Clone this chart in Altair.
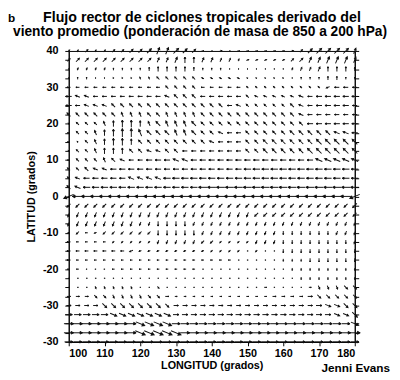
import altair as alt
import pandas as pd

TITLE_LINES = ["Flujo rector de ciclones tropicales derivado del",
               "viento promedio (ponderación de masa de 850 a 200 hPa)"]
PANEL_LABEL = "b"
CREDIT = "Jenni Evans"
X_TITLE = "LONGITUD (grados)"
Y_TITLE = "LATITUD (grados)"

LONS = [100.0, 102.5, 105.0, 107.5, 110.0, 112.5, 115.0, 117.5, 120.0, 122.5,
        125.0, 127.5, 130.0, 132.5, 135.0, 137.5, 140.0, 142.5, 145.0, 147.5,
        150.0, 152.5, 155.0, 157.5, 160.0, 162.5, 165.0, 167.5, 170.0, 172.5,
        175.0, 177.5, 180.0]
LATS = [40.0, 37.5, 35.0, 32.5, 30.0, 27.5, 25.0, 22.5, 20.0, 17.5, 15.0, 12.5,
        10.0, 7.5, 5.0, 2.5, 0.0, -2.5, -5.0, -7.5, -10.0, -12.5, -15.0, -17.5,
        -20.0, -22.5, -25.0, -27.5, -30.0, -32.5, -35.0, -37.5, -40.0]

X_TICKS = [100, 110, 120, 130, 140, 150, 160, 170, 180]
Y_TICKS = [40, 30, 20, 10, 0, -10, -20, -30, -40]
Y_TICK_LABELS = ["40", "30", "20", "10", "0", "-10", "-20", "-30", "-30"]

# direction codes (hex): 0=E, 4=N, 8=W, c=S, steps of 22.5 deg counter-clockwise
DIR_ROWS = [
    "23232 22222 33222 00100 00000 12222 223",
    "22222 22222 33344 33333 11111 22333 333",
    "33333 44444 44444 44444 44444 33334 444",
    "44444 55555 66666 77777 66666 44444 444",
    "88888 88888 86666 88888 66666 66669 888",
    "87788 88888 87666 88888 67777 77888 888",
    "88777 66666 66666 66687 66666 67888 888",
    "66666 65556 65555 66666 66666 67888 888",
    "66665 44445 65556 66666 66666 66888 888",
    "86654 44456 66556 66788 66666 66666 778",
    "86654 44466 66666 67888 66666 66666 666",
    "66654 44667 76688 88888 66666 66666 666",
    "86665 67888 88778 88888 88888 88877 777",
    "66677 88888 88888 88888 88888 88888 888",
    "67888 88777 78888 88888 88888 88888 888",
    "67888 88888 88888 88888 88888 88888 888",
    "98888 88888 88888 88888 88888 88888 889",
    "aaaaa aaaaa aaaaa aaaaa aaaaa aaaaa aaa",
    "bbbbb bbbbb bbbbb bbbbb baaaa aaaaa aaa",
    "bbbbb bbbbb ccccb bbbbb bbbbb bbbbb bbb",
    "9a89a aaaaa ccccc bbbbb bbbbc ccccc bbb",
    "88888 aaaaa bbbbb aaaaa abbbc ccccc ccb",
    "88888 88999 99999 9aaaa 0a00c ccccc ccc",
    "88888 88888 88888 88880 0000c ccccc ccc",
    "88888 88888 88888 00000 00000 ccccc ccc",
    "00000 00000 00000 00000 00000 0cccc ccc",
    "000dd ddd00 e0000 00000 00000 000dd dee",
    "000ee dddde e0000 00000 00000 000ee eee",
    "0000e eeeee ee000 00000 00000 0000f fee",
    "00000 fffff ff000 00000 00000 00000 ffe",
    "00000 000ff ff000 00000 00000 00000 00f",
    "00000 000ff fff00 00000 00000 00000 000",
    "00000 00000 00000 00000 00000 00000 000",
]
# speed classes 0..9
MAG_ROWS = [
    "22322 33445 66654 21212 22222 23566 665",
    "34444 44444 44555 44332 22222 34556 665",
    "12222 22223 44443 22211 11111 23344 443",
    "12211 11122 33333 22222 11111 12223 322",
    "33333 33333 33333 33333 22222 22223 444",
    "54444 44444 44444 44444 33333 34455 555",
    "54444 44444 44444 44444 33333 44455 554",
    "44444 44444 44444 44444 44444 44444 444",
    "13334 56654 55555 44444 44444 44555 555",
    "23345 67765 55555 44444 44444 55555 555",
    "21345 66544 44444 44444 44555 55566 666",
    "13345 55444 44444 44444 44555 55666 666",
    "23334 44445 55555 55555 55555 55566 666",
    "33444 55555 55555 55555 66666 66666 666",
    "34555 55555 56666 66666 66666 66666 666",
    "45666 66666 66666 77777 77777 77777 777",
    "99999 99999 99999 99999 99999 99999 999",
    "44444 44444 44444 44444 44444 44444 445",
    "44444 44444 44444 44444 44444 44444 444",
    "44444 44433 44443 33333 33333 33333 333",
    "23223 33333 44444 33333 33333 33333 333",
    "32222 22222 33333 33222 23333 33333 333",
    "33333 33322 22222 22222 12113 33333 333",
    "32222 22222 22222 22221 11112 22333 333",
    "22111 22222 22222 11111 11111 22222 222",
    "11111 11111 11111 11111 11111 12222 222",
    "11122 22211 21111 11111 11211 11233 344",
    "33333 33333 33222 22222 22233 33444 444",
    "44445 55555 54444 44444 44444 44455 555",
    "66666 66666 66555 55555 55555 55555 556",
    "88888 88888 88777 77777 77777 77777 777",
    "88888 88899 99988 88888 88888 88888 889",
    "77777 77777 77777 77777 77777 77777 777",
]

records = []
for i, lat in enumerate(LATS):
    d = DIR_ROWS[i].replace(" ", "")
    m = MAG_ROWS[i].replace(" ", "")
    assert len(d) == len(LONS) and len(m) == len(LONS), i
    for j, lon in enumerate(LONS):
        records.append({"lon": lon, "lat": lat, "dir": int(d[j], 16), "mag": int(m[j])})
df = pd.DataFrame(records)

Y_MINOR = LATS
FONT = "Liberation Sans"
label_expr = (
    "indexof(" + str(Y_TICKS) + ", datum.value) >= 0 ? "
    + str(Y_TICK_LABELS) + "[indexof(" + str(Y_TICKS) + ", datum.value)] : ''"
)

ARROW = "M0,1L0,-1M-0.27,-0.5L0,-1L0.27,-0.5Z"

xscale = alt.Scale(domain=[100, 180], nice=False, zero=False)
yscale = alt.Scale(domain=[-40, 40], nice=False, zero=False)

arrows = alt.Chart(df).transform_calculate(
    rot="(450 - datum.dir * 22.5) % 360"
).mark_point(
    shape=ARROW, filled=True, fill="#111", stroke="#111",
    strokeWidth=1.0, opacity=1
).encode(
    x=alt.X("lon:Q", scale=xscale, axis=alt.Axis(
        values=X_TICKS, title=X_TITLE, tickSize=4, labelPadding=2,
        labelFont=FONT, labelFontSize=11, labelFontWeight="bold", labelColor="black",
        titleFont=FONT, titleFontSize=11, titleFontWeight="bold", titleColor="black",
        titlePadding=1, grid=False, domainColor="black", tickColor="black")),
    y=alt.Y("lat:Q", scale=yscale, axis=alt.Axis(
        values=Y_MINOR, labelExpr=label_expr, title=Y_TITLE, tickSize=4,
        labelPadding=7, labelFont=FONT, labelFontSize=11, labelFontWeight="bold",
        labelColor="black", titleFont=FONT, titleFontSize=11, titleFontWeight="bold",
        titleColor="black", titlePadding=6, grid=False, domainColor="black",
        tickColor="black", labelOverlap=False)),
    angle=alt.Angle("rot:Q", scale=alt.Scale(domain=[0, 360], range=[0, 360])),
    size=alt.Size("mag:Q", scale=alt.Scale(type="pow", exponent=2, domain=[0, 9],
                                           range=[0, 121]), legend=None),
)

right_ticks = alt.Chart(df).mark_point(opacity=0).encode(
    y=alt.Y("lat:Q", scale=yscale, axis=alt.Axis(
        orient="right", values=Y_MINOR, labels=False, title=None, tickSize=4,
        grid=False, domainColor="black", tickColor="black")),
)


def text_layer(txt, x, y, size, align="center", baseline="alphabetic"):
    return alt.Chart(pd.DataFrame({"t": [txt]})).mark_text(
        align=align, baseline=baseline, font=FONT, fontSize=size,
        fontWeight="bold", color="black"
    ).encode(text="t:N", x=alt.value(x), y=alt.value(y))


title1 = text_layer(TITLE_LINES[0], 136, -30, 14.5)
title2 = text_layer(TITLE_LINES[1], 134, -15, 14)
panel = text_layer(PANEL_LABEL, -62, -39, 12, align="left", baseline="top")
credit = text_layer(CREDIT, 328, 328, 12, align="right")

chart = alt.layer(arrows, right_ticks, title1, title2, panel, credit).resolve_scale(
    y="independent"
).properties(
    width=292, height=297,
    autosize=alt.AutoSizeParams(type="none"),
    padding={"left": 62, "top": 40, "right": 38, "bottom": 32},
).configure_view(stroke="black", strokeWidth=1)

chart.save("out.html", embed_options={"renderer": "svg", "actions": False})
